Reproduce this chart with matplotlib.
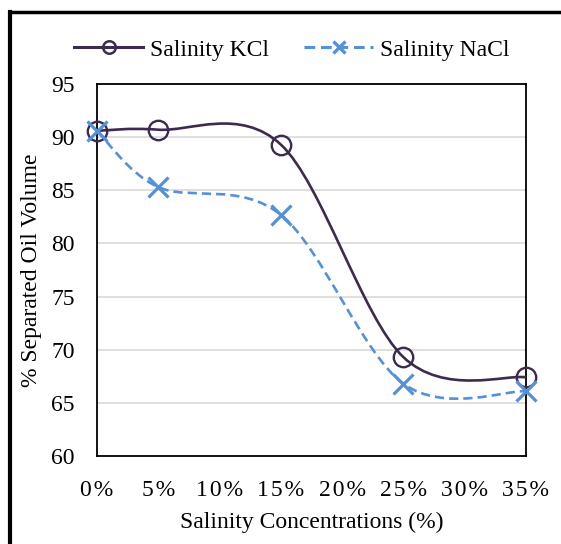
import matplotlib
matplotlib.use("Agg")
import matplotlib.pyplot as plt
from matplotlib.path import Path
from matplotlib.patches import PathPatch
from matplotlib.lines import Line2D
import numpy as np

x_vals = [0, 5, 15, 25, 35]
kcl = [90.6, 90.7, 89.3, 69.3, 67.4]
nacl = [90.6, 85.3, 82.7, 66.8, 66.1]
x_ticks = [0, 5, 10, 15, 20, 25, 30, 35]
x_tick_labels = ["0%", "5%", "10%", "15%", "20%", "25%", "30%", "35%"]
y_ticks = [60, 65, 70, 75, 80, 85, 90, 95]

KCL_C = "#3D2B4F"
NACL_C = "#5590DB"
FONT = "Liberation Serif"
FS = 17

W, H = 561, 544
fig = plt.figure(figsize=(W / 100, H / 100), dpi=100)
L, R, T, B = 97, 526, 84, 456
ax = fig.add_axes([L / W, 1 - B / H, (R - L) / W, (B - T) / H])


def smooth_path(xs, ys):
    p = np.column_stack([xs, ys]).astype(float)
    n = len(p)
    verts = [p[0]]
    codes = [Path.MOVETO]
    for i in range(n - 1):
        p0 = p[i - 1] if i > 0 else p[i]
        p1 = p[i]
        p2 = p[i + 1]
        p3 = p[i + 2] if i + 2 < n else p[i + 1]
        c1 = p1 + (p2 - p0) / 6.0
        c2 = p2 - (p3 - p1) / 6.0
        verts += [c1, c2, p2]
        codes += [Path.CURVE4] * 3
    return Path(verts, codes)


DASH = (0, (3.5, 1.9))
ax.add_patch(PathPatch(smooth_path(x_vals, kcl), fill=False, edgecolor=KCL_C,
                       lw=1.9, zorder=3, clip_on=False))
ax.add_patch(PathPatch(smooth_path(x_vals, nacl), fill=False, edgecolor=NACL_C,
                       lw=1.9, ls=DASH, zorder=3, clip_on=False))
ax.plot(x_vals, kcl, ls="none", marker="o", ms=14, mfc="none", mec=KCL_C,
        mew=1.7, zorder=4, clip_on=False)
ax.plot(x_vals, nacl, ls="none", marker="x", ms=14, mec=NACL_C,
        mew=2.3, zorder=5, clip_on=False)

ax.set_xlim(0, 35)
ax.set_ylim(60, 95)
ax.set_xticks(x_ticks)
ax.set_xticklabels(["\u200a".join(list(s)) for s in x_tick_labels])
ax.set_yticks(y_ticks)
ax.tick_params(length=0, labelsize=FS)
ax.tick_params(axis="x", pad=17)
ax.tick_params(axis="y", pad=16)
for lab in ax.get_xticklabels() + ax.get_yticklabels():
    lab.set_fontfamily([FONT, "DejaVu Serif"])
ax.grid(axis="y", color="#D9D9D9", lw=1.2, zorder=0)
ax.set_axisbelow(True)
for s in ax.spines.values():
    s.set_color("black")
    s.set_linewidth(1.3)

ax.set_xlabel("Salinity Concentrations (%)", fontfamily=FONT, fontsize=FS, labelpad=8)
ax.set_ylabel("% Separated Oil Volume", fontfamily=FONT, fontsize=FS, labelpad=7)

h1 = Line2D([], [], color=KCL_C, lw=2.2, marker="o", ms=9, mfc="none", mec=KCL_C, mew=1.8)
h2 = Line2D([], [], color=NACL_C, lw=2.2, ls=DASH, marker="x", ms=9, mec=NACL_C, mew=2.4)
fig.legend([h1, h2], ["Salinity KCl", "Salinity NaCl"], loc="center",
           bbox_to_anchor=(292 / W, 1 - 50 / H), ncol=2, frameon=False,
           prop={"family": FONT, "size": FS}, handlelength=2.9,
           columnspacing=1.5, handletextpad=0.3)

# outer border (left and top visible)
fig.add_artist(Line2D([10 / W, 10 / W], [0, 1 - 12 / H], color="black", lw=3,
                      transform=fig.transFigure))
fig.add_artist(Line2D([10 / W, 1], [1 - 12 / H, 1 - 12 / H], color="black", lw=2.5,
                      transform=fig.transFigure))

fig.savefig("out.png", dpi=100)
